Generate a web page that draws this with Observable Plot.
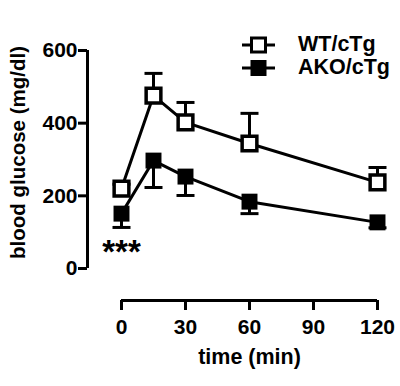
<!DOCTYPE html>
<html>
<head>
<meta charset="utf-8">
<script src="https://cdn.jsdelivr.net/npm/d3@7"></script>
<script src="https://cdn.jsdelivr.net/npm/@observablehq/plot@0.6"></script>
<style>
  html, body { margin: 0; padding: 0; background: #fff; }
  #wrap { position: relative; width: 400px; height: 386px; font-family: "Liberation Sans", Arial, sans-serif; }
  #legend { position: absolute; left: 242px; top: 33px; font-weight: bold; font-size: 21.5px; line-height: 23px; }
  #legend .row { display: flex; align-items: center; height: 23px; }
  #legend svg { margin-right: 23px; }
</style>
</head>
<body>
<div id="wrap"><div id="legend"></div></div>
<script>
const times = [0, 15, 30, 60, 120];
const seriesNames = ["WT/cTg", "AKO/cTg"];
const wtMean = [220, 476, 402, 344, 237];
const wtSem = [12, 61, 55, 83, 41];
const akoMean = [151, 297, 253, 184, 127];
const akoSem = [38, 74, 52, 33, 15];
const xTicks = [0, 30, 60, 90, 120];
const yTicks = [0, 200, 400, 600];
const xLabel = "time (min)";
const yLabel = "blood glucose (mg/dl)";
const annotations = [{x: 0, y: 52, text: "***"}];

const wt = times.map((t, i) => ({t, mean: wtMean[i], err: wtMean[i] + wtSem[i]}));
const ako = times.map((t, i) => ({t, mean: akoMean[i], err: akoMean[i] - akoSem[i]}));

const cap = {draw(ctx, size) { const h = Math.sqrt(size / Math.PI); ctx.moveTo(-h, 0); ctx.lineTo(h, 0); }};

const chart = Plot.plot({
  width: 400,
  height: 386,
  marginLeft: 121,
  marginRight: 23,
  marginTop: 50,
  marginBottom: 118,
  style: {fontFamily: '"Liberation Sans", Arial, sans-serif', fontSize: "19px", fontWeight: "bold", color: "#000", background: "transparent", overflow: "visible"},
  x: {domain: [0, 120]},
  y: {domain: [0, 600]},
  marks: [
    Plot.ruleX([0], {dx: -34, y1: 0, y2: 600, strokeWidth: 3}),
    Plot.ruleY([0], {dy: 32, x1: 0, x2: 120, strokeWidth: 3}),
    Plot.axisY({ticks: yTicks, dx: -34, tickSize: 9, strokeWidth: 3, tickFormat: () => "", label: null}),
    Plot.axisX({ticks: xTicks, dy: 32, tickSize: 10, strokeWidth: 3, tickFormat: () => "", label: null}),
    Plot.text(yTicks, {y: d => d, frameAnchor: "left", dx: -44, textAnchor: "end", lineAnchor: "middle", fontSize: 21}),
    Plot.text(xTicks, {x: d => d, frameAnchor: "bottom", dy: 59, lineAnchor: "middle", fontSize: 21}),
    Plot.text([xLabel], {frameAnchor: "bottom", dy: 89, lineAnchor: "middle", fontSize: 21.5}),
    Plot.text([yLabel], {frameAnchor: "left", textAnchor: "middle", dx: -103, dy: -7, rotate: -90, fontSize: 20.5}),
    // error bars
    Plot.ruleX(wt, {x: "t", y1: "mean", y2: "err", strokeWidth: 3}),
    Plot.dot(wt, {x: "t", y: "err", symbol: cap, r: 9, stroke: "#000", strokeWidth: 3, fill: "none"}),
    Plot.ruleX(ako, {x: "t", y1: "mean", y2: "err", strokeWidth: 3}),
    Plot.dot(ako, {x: "t", y: "err", symbol: cap, r: 9, stroke: "#000", strokeWidth: 3, fill: "none"}),
    // lines
    Plot.line(wt, {x: "t", y: "mean", strokeWidth: 3, stroke: "#000"}),
    Plot.line(ako, {x: "t", y: "mean", strokeWidth: 3, stroke: "#000"}),
    // markers
    Plot.dot(wt, {x: "t", y: "mean", symbol: "square", r: 8.3, fill: "#fff", stroke: "#000", strokeWidth: 3.5}),
    Plot.dot(ako, {x: "t", y: "mean", symbol: "square", r: 9, fill: "#000", stroke: "none"}),
    Plot.text(annotations, {x: "x", y: "y", text: "text", fontSize: 33, lineAnchor: "middle", dy: 3})
  ]
});
document.getElementById("wrap").prepend(chart);

const legend = document.getElementById("legend");
seriesNames.forEach((name, i) => {
  const row = document.createElement("div");
  row.className = "row";
  const filled = i === 1;
  row.innerHTML = `<svg width="33" height="22" viewBox="0 0 33 22">
    <line x1="0" x2="33" y1="11" y2="11" stroke="#000" stroke-width="3"/>
    <rect x="${filled ? 8.5 : 9.5}" y="${filled ? 3 : 4}" width="${filled ? 16 : 14}" height="${filled ? 16 : 14}" fill="${filled ? '#000' : '#fff'}" stroke="#000" stroke-width="${filled ? 0 : 3}"/>
  </svg><span>${name}</span>`;
  legend.appendChild(row);
});
</script>
</body>
</html>
